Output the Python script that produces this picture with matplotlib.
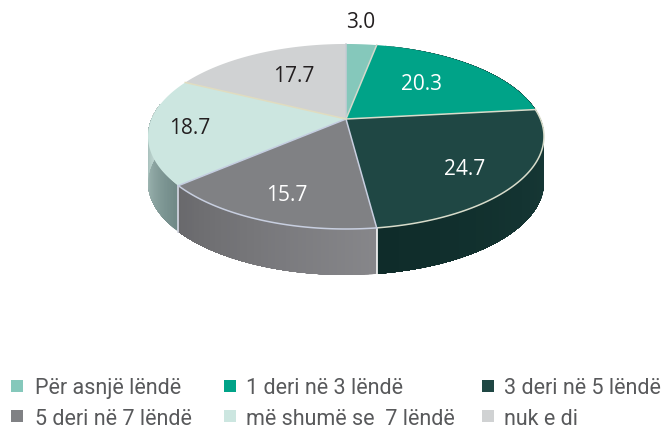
import numpy as np
import matplotlib
matplotlib.use('Agg')
import matplotlib.pyplot as plt
from matplotlib.colors import to_rgb
from matplotlib.patches import Rectangle

categories = ['Për asnjë lëndë', '1 deri në 3 lëndë', '3 deri në 5 lëndë',
              '5 deri në 7 lëndë', 'më shumë se  7 lëndë', 'nuk e di']
values = [3.0, 20.3, 24.7, 15.7, 18.7, 17.7]
value_labels = ['3.0', '20.3', '24.7', '15.7', '18.7', '17.7']

colors = ['#85c8bb', '#00a388', '#1f4744', '#808184', '#cce6e0', '#d0d2d3']
label_colors = ['#231f20', 'white', 'white', 'white', '#231f20', '#231f20']
label_pos = [(361, 22), (421, 84), (465, 170), (287, 196), (190, 129), (294, 76)]
edge_colors = ['#c8ccd4', '#d4d8cc', '#d8dccb', '#c8cfe0', '#c4cde0', '#e0dcc0']

# pie geometry in pixels, apex is not in the middle of the ellipse (perspective)
cx, cy = 346, 120
A, B, k = 194.4, 89.2, 0.189
depth = 46


def project(deg):
    t = np.radians(deg)
    u, v = np.sin(t), np.cos(t)
    w = 1 + k * v
    return cx + A * u / w, cy - B * v / w


def blend(c1, c2, f):
    return np.array(to_rgb(c1)) * (1 - f) + np.array(to_rgb(c2)) * f


def side(a0, a1, c0, c1):
    # outer wall, each strip runs to the end and the next one paints over it (no seams)
    steps = np.linspace(a0, a1, 60)
    for i in range(len(steps) - 1):
        x, y = project(steps[i:])
        ax.fill(np.r_[x, x[::-1]], np.r_[y, y[::-1] + depth],
                color=blend(c0, c1, i / 58), lw=0, zorder=2)


fig = plt.figure(figsize=(6.65, 4.31), dpi=100)
ax = fig.add_axes([0, 0, 1, 1])
ax.set_xlim(0, 665)
ax.set_ylim(431, 0)
ax.axis('off')

bounds = np.concatenate([[0], np.cumsum(values)]) / np.sum(values) * 360

# side walls
side(bounds[2] - 70, bounds[3], '#1f4744', '#0f2c2a')
side(bounds[3], bounds[4], '#86868a', '#69696c')
side(bounds[4], 280, '#6f8886', '#c8dfda')

x0, y0 = project(bounds[3])
ax.plot([x0, x0], [y0, y0 + depth], color='white', lw=1.2, zorder=3)
x0, y0 = project(bounds[4])
ax.plot([x0, x0], [y0, y0 + depth], color='#d5d8e4', lw=1.2, zorder=3)

# top face
for i in range(len(values)):
    a = np.linspace(bounds[i], bounds[i + 1], 100)
    x, y = project(a)
    ax.fill(np.r_[cx, x], np.r_[cy, y], color=colors[i], lw=0, zorder=4)
for i in range(len(values)):
    a = np.linspace(bounds[i], bounds[i + 1], 100)
    x, y = project(a)
    ax.plot([cx, x[0]], [cy, y[0]], color=edge_colors[i], lw=1.1, zorder=5)
    if i in (2, 3):
        ax.plot(x, y, color=edge_colors[i], lw=1.1, zorder=5)

for i in range(len(values)):
    ax.text(label_pos[i][0], label_pos[i][1], value_labels[i], color=label_colors[i],
            fontsize=15, family='Open Sans', ha='center', va='center', zorder=6)

# legend
legend_x = [11, 224, 482]
legend_y = [387, 418]
for i in range(len(categories)):
    lx = legend_x[i % 3]
    ly = legend_y[i // 3]
    ax.add_patch(Rectangle((lx, ly - 6.5), 12, 12, color=colors[i], lw=0))
    ax.text(lx + 24 if i % 3 == 0 else lx + 22, ly + 2, categories[i], color='#58595b', fontsize=15.5,
            family='Roboto', ha='left', va='center')

fig.savefig('out.png', dpi=100)
